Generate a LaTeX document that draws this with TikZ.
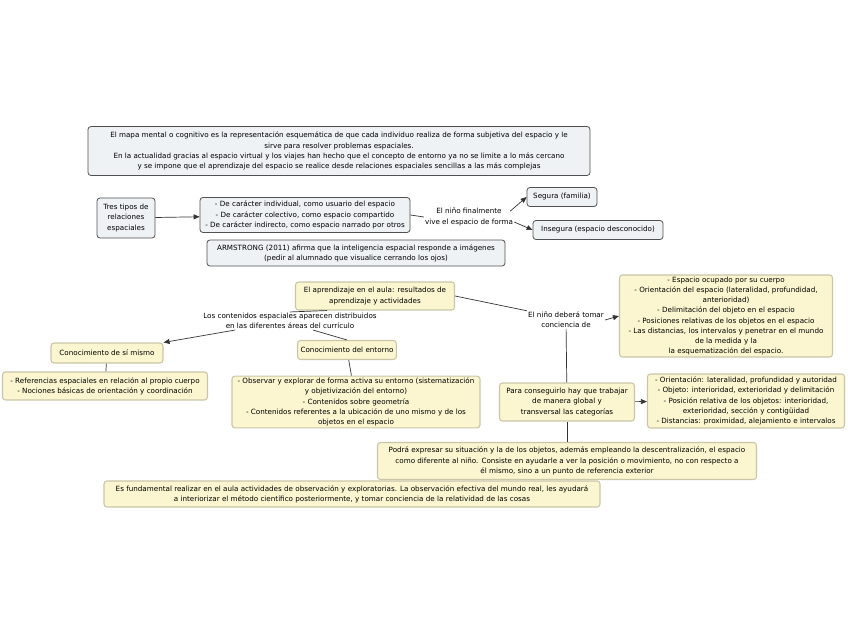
\documentclass[tikz,border=0pt]{standalone}
\usepackage{fontspec}
\setmainfont{DejaVu Sans}
\usetikzlibrary{arrows.meta, positioning}
\definecolor{boxgrey}{HTML}{EEF2F5}
\definecolor{boxyellow}{HTML}{FBF6D0}
\definecolor{rimyellow}{HTML}{C9C6A8}
\definecolor{rimgrey}{HTML}{505050}
\definecolor{linedark}{HTML}{333333}

\begin{document}
\begin{tikzpicture}[x=1bp, y=-1bp,
    every node/.style={font=\fontsize{7.2}{10.2}\selectfont, align=center, text=black},
    greybox/.style={draw=rimgrey, fill=boxgrey, rounded corners=3pt, line width=0.8pt, inner xsep=3pt, inner ysep=2pt},
    yellowbox/.style={draw=rimyellow, fill=boxyellow, rounded corners=3pt, line width=1.1pt, inner xsep=3pt, inner ysep=2pt},
    lbl/.style={inner sep=1pt},
    conn/.style={draw=linedark, line width=0.7pt},
    arr/.style={conn, -{Triangle[length=6pt, width=5pt]}}]
        \useasboundingbox (0,0) rectangle (848,638);
        % Introduction
        \node[greybox, minimum width=502bp, minimum height=49bp] (intro) at (339,151) {El mapa mental o cognitivo es la representación esquemática de que cada individuo realiza de forma subjetiva del espacio y le\\ sirve para resolver problemas espaciales.\\ En la actualidad gracias al espacio virtual y los viajes han hecho que el concepto de entorno ya no se limite a lo más cercano\\ y se impone que el aprendizaje del espacio se realice desde relaciones espaciales sencillas a las más complejas};

        % Types of spatial relations
        \node[greybox, minimum width=58bp, minimum height=40bp] (tres) at (126,218) {Tres tipos de\\ relaciones\\ espaciales};
        \node[greybox, minimum width=210bp, minimum height=35bp] (tipos) at (305,215) {- De carácter individual, como usuario del espacio\\ - De carácter colectivo, como espacio compartido\\ - De carácter indirecto, como espacio narrado por otros};
        \node[lbl] (vive) at (469,217) {El niño finalmente\\ vive el espacio de forma};
        \node[greybox, minimum width=70bp, minimum height=19bp] (segura) at (562,197) {Segura (familia)};
        \node[greybox, minimum width=130bp, minimum height=19bp] (insegura) at (598,230) {Insegura (espacio desconocido)};
        \node[greybox, minimum width=298bp, minimum height=26bp] (armstrong) at (356,253) {ARMSTRONG (2011) afirma que la inteligencia espacial responde a imágenes\\ (pedir al alumnado que visualice cerrando los ojos)};

        % Learning in the classroom
        \node[yellowbox, minimum width=159bp, minimum height=28bp] (aula) at (375,296) {El aprendizaje en el aula: resultados de\\ aprendizaje y actividades};
        \node[lbl] (areas) at (290,321) {Los contenidos espaciales aparecen distribuidos\\ en las diferentes áreas del currículo};
        \node[yellowbox, minimum width=112bp, minimum height=20bp] (simismo) at (107,353) {Conocimiento de sí mismo};
        \node[yellowbox, minimum width=82bp, minimum height=19bp] (entorno) at (347,350) {Conocimiento del entorno};
        \node[yellowbox, minimum width=205bp, minimum height=28bp] (cuerpo) at (105,386) {- Referencias espaciales en relación al propio cuerpo\\ - Nociones básicas de orientación y coordinación};
        \node[yellowbox, minimum width=248bp, minimum height=51bp] (explorar) at (356,402) {- Observar y explorar de forma activa su entorno (sistematización\\ y objetivización del entorno)\\ - Contenidos sobre geometría\\ - Contenidos referentes a la ubicación de uno mismo y de los\\ objetos en el espacio};

        % Awareness of space
        \node[lbl] (tomar) at (566,320) {El niño deberá tomar\\ conciencia de};
        \node[yellowbox, minimum width=213bp, minimum height=81bp] (ocupado) at (726,316) {- Espacio ocupado por su cuerpo\\ - Orientación del espacio (lateralidad, profundidad,\\ anterioridad)\\ - Delimitación del objeto en el espacio\\ - Posiciones relativas de los objetos en el espacio\\ - Las distancias, los intervalos y penetrar en el mundo\\ de la medida y la\\ la esquematización del espacio.};
        \node[yellowbox, minimum width=135bp, minimum height=38bp] (global) at (567,402) {Para conseguirlo hay que trabajar\\ de manera global y\\ transversal las categorías};
        \node[yellowbox, minimum width=197bp, minimum height=54bp] (categ) at (746,401) {- Orientación: lateralidad, profundidad y autoridad\\ - Objeto: interioridad, exterioridad y delimitación\\ - Posición relativa de los objetos: interioridad,\\ exterioridad, sección y contigüidad\\ - Distancias: proximidad, alejamiento e intervalos};
        \node[yellowbox, minimum width=379bp, minimum height=37bp] (podra) at (567,461) {Podrá expresar su situación y la de los objetos, además empleando la descentralización, el espacio\\ como diferente al niño. Consiste en ayudarle a ver la posición o movimiento, no con respecto a\\ él mismo, sino a un punto de referencia exterior};
        \node[yellowbox, minimum width=496bp, minimum height=26bp] (fundamental) at (352,494) {Es fundamental realizar en el aula actividades de observación y exploratorias. La observación efectiva del mundo real, les ayudará\\ a interiorizar el método científico posteriormente, y tomar conciencia de la relatividad de las cosas};

        % Connectors
        \draw[arr] (tres) -- (tipos);
        \draw[conn] (tipos.east) -- (vive.west);
        \draw[arr] (vive.north east) ++(-4,4) -- (segura.west);
        \draw[arr] (vive.east) ++(0,5) -- (insegura.west);
        \draw[conn] (aula.south west) ++(32,0) -- (areas.north);
        \draw[arr] (areas.south) ++(-55,0) -- (simismo.north east);
        \draw[conn] (areas.south) ++(23,0) -- (entorno.north);
        \draw[conn] (simismo) -- (cuerpo);
        \draw[conn] (entorno) -- (explorar);
        \draw[conn] (aula.east) -- (tomar.north west);
        \draw[arr] (tomar.east) -- (ocupado.west);
        \draw[conn] (tomar) -- (global);
        \draw[arr] (global) -- (categ);
        \draw[conn] (global) -- (podra);
    \end{tikzpicture}
\end{document}
